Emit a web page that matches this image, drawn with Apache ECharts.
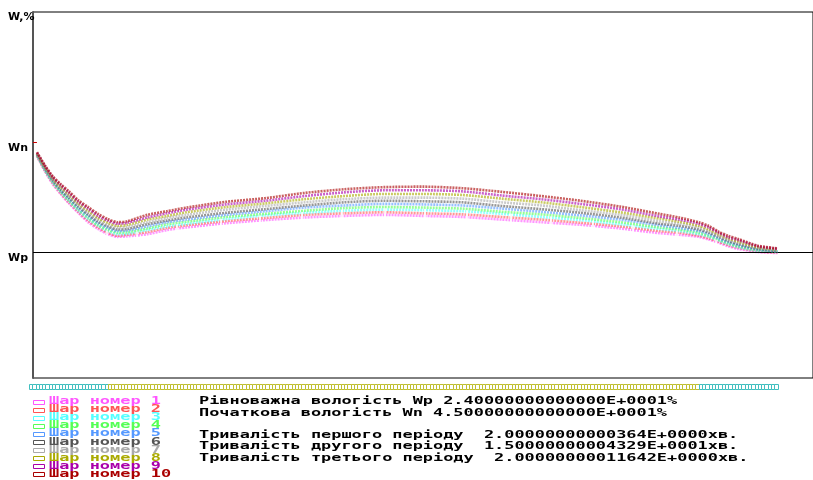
<!DOCTYPE html>
<html><head><meta charset="utf-8">
<script src="https://cdn.jsdelivr.net/npm/echarts@6/dist/echarts.min.js"></script>
<style>html,body{margin:0;padding:0;background:#fff}#c{width:813px;height:480px}</style>
</head><body><div id="c"></div>
<script>
// time, minutes
const times = [0.2,0.4,0.6,0.8,1.0,1.25,1.5,1.75,2.0,2.25,2.5,3,3.5,4,5,6,7,8,9,10,11,12,13,14,15,16,16.5,17,17.25,17.5,17.75,18,18.5,19];
// moisture W, % per layer
const layer1  = [42.5,39.6,37.1,35.2,33.5,31.6,29.8,28.5,27.5,27.0,27.1,27.5,28.3,28.8,29.6,30.2,30.7,31.0,31.2,31.0,30.8,30.3,29.8,29.3,28.6,27.7,27.4,27.0,26.5,25.9,25.2,24.7,24.1,23.9];
const layer2  = [42.5,39.7,37.3,35.4,33.7,31.8,30.1,28.8,27.8,27.2,27.4,27.9,28.7,29.2,30.0,30.6,31.2,31.5,31.7,31.5,31.3,30.8,30.3,29.7,29.0,28.1,27.8,27.2,26.7,26.1,25.4,24.9,24.2,24.0];
const layer3  = [42.6,39.8,37.4,35.6,33.9,32.0,30.4,29.1,28.1,27.5,27.6,28.3,29.0,29.5,30.4,31.1,31.6,32.0,32.2,32.1,31.9,31.4,30.8,30.2,29.4,28.5,28.1,27.5,27.0,26.3,25.6,25.0,24.3,24.1];
const layer4  = [42.7,39.9,37.5,35.7,34.1,32.3,30.7,29.3,28.4,27.8,27.9,28.6,29.4,29.9,30.8,31.4,32.0,32.5,32.7,32.6,32.4,31.8,31.3,30.6,29.8,28.8,28.4,27.8,27.2,26.5,25.8,25.2,24.5,24.2];
const layer5  = [42.8,40.0,37.7,35.9,34.4,32.5,31.0,29.6,28.7,28.1,28.2,29.0,29.8,30.3,31.2,31.9,32.6,33.0,33.3,33.2,33.0,32.4,31.8,31.1,30.3,29.2,28.7,28.1,27.5,26.7,26.0,25.4,24.6,24.2];
const layer6  = [42.8,40.2,37.9,36.1,34.6,32.8,31.3,29.9,29.0,28.4,28.5,29.4,30.1,30.7,31.6,32.3,33.0,33.6,33.9,33.8,33.6,32.9,32.3,31.6,30.7,29.5,29.1,28.4,27.8,27.0,26.2,25.6,24.7,24.3];
const layer7  = [42.9,40.3,38.1,36.4,34.9,33.1,31.6,30.3,29.3,28.8,28.9,29.8,30.6,31.2,32.2,32.9,33.6,34.2,34.5,34.5,34.3,33.6,33.0,32.1,31.2,30.0,29.5,28.8,28.1,27.2,26.4,25.9,24.9,24.4];
const layer8  = [43.0,40.4,38.2,36.6,35.2,33.4,32.0,30.6,29.7,29.1,29.3,30.3,31.0,31.7,32.7,33.4,34.2,34.8,35.2,35.2,35.0,34.3,33.6,32.7,31.7,30.5,29.9,29.1,28.4,27.5,26.7,26.1,25.0,24.6];
const layer9  = [43.1,40.6,38.4,36.9,35.5,33.7,32.4,31.0,30.1,29.5,29.7,30.7,31.5,32.2,33.2,33.9,34.8,35.5,35.9,35.9,35.7,34.9,34.2,33.3,32.3,30.9,30.3,29.5,28.8,27.8,26.9,26.4,25.2,24.7];
const layer10 = [43.2,40.7,38.6,37.1,35.8,34.0,32.7,31.4,30.4,29.8,30.0,31.2,31.9,32.6,33.7,34.4,35.4,36.1,36.5,36.6,36.3,35.6,34.8,33.9,32.8,31.4,30.7,29.8,29.1,28.0,27.2,26.6,25.3,24.8];
const layers = [layer1,layer2,layer3,layer4,layer5,layer6,layer7,layer8,layer9,layer10];
const layerNames = ['Шар номер 1','Шар номер 2','Шар номер 3','Шар номер 4','Шар номер 5','Шар номер 6','Шар номер 7','Шар номер 8','Шар номер 9','Шар номер 10'];
const layerColors = ['#FF55FF','#FF5555','#55FFFF','#55FF55','#5599FF','#555555','#AAAAAA','#AAAA00','#AA00AA','#AA0000'];
const wp = 24, wn = 45;
const yTickValues = [24, 45, 70];
const yTickNames = ['Wp', 'Wn', 'W,%'];
const periods = [2, 15, 2];
const periodColors = ['#40BFBF', '#BFBF30', '#40BFBF'];
// moments where the plotted bands show a blank column, minutes
const gapTimes = [1.98,2.74,3.76,4.87,5.86,6.93,7.95,9.04,10.05,11.12,12.24,13.25,14.32,15.33,16.43,17.44,18.53];
const infoLines = [
  'Рівноважна вологість Wp 2.40000000000000E+0001%',
  'Початкова вологість Wn 4.50000000000000E+0001%',
  'Тривалість першого періоду  2.00000000000364E+0000хв.',
  'Тривалість другого періоду  1.50000000004329E+0001хв.',
  'Тривалість третього періоду  2.00000000011642E+0000хв.'
];

const infoY = [401.5, 413.5, 435, 446.5, 458];
const monoFont = 'bold 10px "DejaVu Sans Mono"';
const sx = 1.69;

// colour bar cells (one per 5 s)
const cellStep = 1/12;
const cells = [];
let tStart = 0;
periods.forEach((p, i) => {
  const n = Math.round(p / cellStep);
  for (let k = 0; k < n; k++) cells.push([tStart + k*p/n, tStart + (k+1)*p/n, i]);
  tStart += p;
});

const graphics = [];
layerNames.forEach((name, i) => {
  const cy = 401.5 + 8.1*i;
  graphics.push({type:'rect', silent:true, shape:{x:33.5, y:Math.round(cy-2)+0.5, width:11, height:4},
    style:{fill:'none', stroke:layerColors[i], lineWidth:1}});
  graphics.push({type:'text', silent:true, x:49, y:cy, scaleX:sx,
    style:{text:name, font:monoFont, fill:layerColors[i], verticalAlign:'middle', align:'left'}});
});
infoLines.forEach((s, i) => {
  graphics.push({type:'text', silent:true, x:199, y:infoY[i], scaleX:sx,
    style:{text:s, font:monoFont, fill:'#000', verticalAlign:'middle', align:'left'}});
});

const series = layers.map((arr, i) => ({
  name: layerNames[i], type:'line', xAxisIndex:0, yAxisIndex:0,
  data: times.map((t, k) => [t, arr[k]]),
  showSymbol:false, smooth:0.25, z: 2 + i,
  lineStyle:{color:layerColors[i], width:2.6, type:[2,1], opacity:0.62},
  itemStyle:{color:layerColors[i]}
}));

// reference lines and blank columns, drawn above the layers
const md = [
  {yAxis:wp, lineStyle:{color:'#000', type:'solid', width:1, opacity:1}},
  [{coord:[0.1, wn], lineStyle:{color:'#CC0000', type:'solid', width:1, opacity:1}}, {coord:[0.2, wn]}]
];
gapTimes.forEach(t => md.push([{coord:[t, 24.4], lineStyle:{color:'#fff', type:'solid', width:1.6, opacity:1}}, {coord:[t, 44]}]));
series.push({
  type:'line', xAxisIndex:0, yAxisIndex:0, data:[], z:20, silent:true,
  markLine:{silent:true, symbol:'none', label:{show:false}, animation:false, data: md}
});

series.push({
  type:'custom', xAxisIndex:1, yAxisIndex:1, clip:false, silent:true,
  data: cells, encode:{x:[0,1]},
  renderItem: (params, api) => {
    const a = api.coord([api.value(0), 1]);
    const b = api.coord([api.value(1), 0]);
    return {type:'rect', shape:{x:Math.round(a[0])+0.5, y:Math.round(a[1])+0.5, width:Math.round(b[0])-Math.round(a[0]), height:Math.round(b[1]-a[1])-1},
      style:{fill:'#fff', stroke:periodColors[api.value(2)], lineWidth:1}};
  }
});

const chart = echarts.init(document.getElementById('c'), null, {renderer:'canvas'});
chart.setOption({
  animation:false,
  backgroundColor:'#fff',
  grid:[
    {left:33, right:0, top:12, bottom:102, show:true, borderColor:'#000', borderWidth:1, backgroundColor:'transparent'},
    {left:29, right:0, top:384, height:6}
  ],
  xAxis:[
    {type:'value', gridIndex:0, min:0.1, max:19.9, show:true, axisLine:{show:false}, axisTick:{show:false}, axisLabel:{show:false}, splitLine:{show:false}},
    {type:'value', gridIndex:1, min:0, max:19.9, show:false}
  ],
  yAxis:[
    {type:'value', gridIndex:0, min:0, max:70, interval:1,
     axisLine:{show:true, onZero:false, lineStyle:{color:'#555', width:2}},
     axisTick:{show:false}, splitLine:{show:false},
     axisLabel:{show:true, align:'left', verticalAlign:'top', margin:25, color:'#000',
       fontFamily:'DejaVu Sans', fontWeight:'bold', fontSize:11,
       formatter: v => { const i = yTickValues.indexOf(v); return i >= 0 ? yTickNames[i] : ''; }}},
    {type:'value', gridIndex:1, min:0, max:1, show:false}
  ],
  series: series,
  graphic: graphics
});
</script></body></html>
